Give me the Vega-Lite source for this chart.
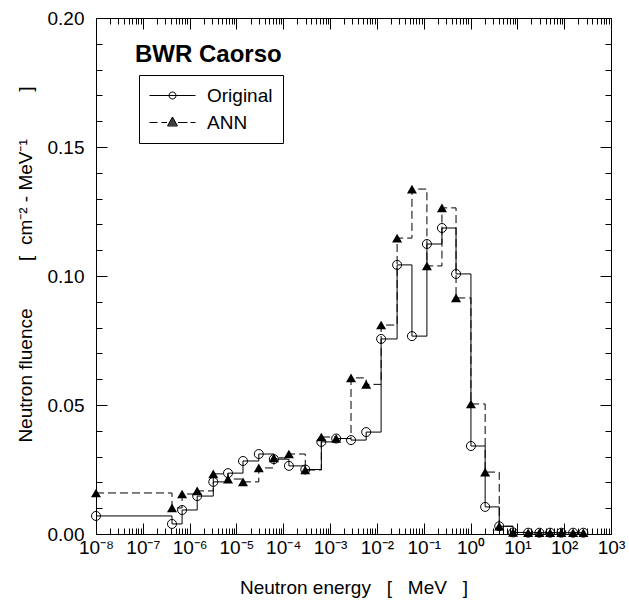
{
  "$schema": "https://vega.github.io/schema/vega-lite/v6.json",
  "width": 515,
  "height": 516,
  "autosize": "none",
  "padding": {"left": 96, "top": 18, "right": 18, "bottom": 71},
  "background": "white",
  "config": {
    "view": {"stroke": "black", "strokeWidth": 1},
    "font": "Liberation Sans",
    "axis": {
      "grid": false, "domain": false,
      "labelFont": "Liberation Sans", "labelFontSize": 19, "labelColor": "black",
      "titleFont": "Liberation Sans", "titleFontSize": 19, "titleFontWeight": "normal", "titleColor": "black",
      "tickColor": "black", "tickWidth": 1, "labelOverlap": false, "labelFlush": false
    }
  },
  "title": {
    "text": "BWR Caorso", "anchor": "start", "frame": "group", "orient": "top",
    "offset": -77, "dx": 39, "fontSize": 24, "fontWeight": "bold",
    "font": "Liberation Sans", "color": "black", "baseline": "alphabetic"
  },
  "data": {
    "values": [
      {"E": 1e-8, "v": 0.0070, "s": "Original"},
      {"E": 4.2e-7, "v": 0.0039, "s": "Original"},
      {"E": 6.9e-7, "v": 0.0093, "s": "Original"},
      {"E": 1.45e-6, "v": 0.0147, "s": "Original"},
      {"E": 3.2e-6, "v": 0.0202, "s": "Original"},
      {"E": 6.6e-6, "v": 0.0236, "s": "Original"},
      {"E": 1.38e-5, "v": 0.0283, "s": "Original"},
      {"E": 3.0e-5, "v": 0.0310, "s": "Original"},
      {"E": 6.3e-5, "v": 0.0290, "s": "Original"},
      {"E": 1.32e-4, "v": 0.0264, "s": "Original"},
      {"E": 2.95e-4, "v": 0.0250, "s": "Original"},
      {"E": 6.5e-4, "v": 0.0357, "s": "Original"},
      {"E": 1.35e-3, "v": 0.0370, "s": "Original"},
      {"E": 2.8e-3, "v": 0.0364, "s": "Original"},
      {"E": 5.9e-3, "v": 0.0395, "s": "Original"},
      {"E": 1.23e-2, "v": 0.0756, "s": "Original"},
      {"E": 2.7e-2, "v": 0.1043, "s": "Original"},
      {"E": 5.6e-2, "v": 0.0767, "s": "Original"},
      {"E": 0.117, "v": 0.1124, "s": "Original"},
      {"E": 0.245, "v": 0.1186, "s": "Original"},
      {"E": 0.49, "v": 0.1008, "s": "Original"},
      {"E": 1.02, "v": 0.0341, "s": "Original"},
      {"E": 2.05, "v": 0.0105, "s": "Original"},
      {"E": 4.1, "v": 0.0030, "s": "Original"},
      {"E": 8.1, "v": 0.0006, "s": "Original"},
      {"E": 17, "v": 0.0005, "s": "Original"},
      {"E": 29.5, "v": 0.0005, "s": "Original"},
      {"E": 50, "v": 0.0005, "s": "Original"},
      {"E": 87, "v": 0.0005, "s": "Original"},
      {"E": 155, "v": 0.0005, "s": "Original"},
      {"E": 257, "v": 0.0005, "s": "Original"},
      {"E": 1e-8, "v": 0.0159, "s": "ANN"},
      {"E": 4.2e-7, "v": 0.0101, "s": "ANN"},
      {"E": 6.9e-7, "v": 0.0155, "s": "ANN"},
      {"E": 1.45e-6, "v": 0.0167, "s": "ANN"},
      {"E": 3.2e-6, "v": 0.0233, "s": "ANN"},
      {"E": 6.6e-6, "v": 0.0213, "s": "ANN"},
      {"E": 1.38e-5, "v": 0.0202, "s": "ANN"},
      {"E": 3.0e-5, "v": 0.0256, "s": "ANN"},
      {"E": 6.3e-5, "v": 0.0295, "s": "ANN"},
      {"E": 1.32e-4, "v": 0.0310, "s": "ANN"},
      {"E": 2.95e-4, "v": 0.0248, "s": "ANN"},
      {"E": 6.5e-4, "v": 0.0376, "s": "ANN"},
      {"E": 1.35e-3, "v": 0.0370, "s": "ANN"},
      {"E": 2.8e-3, "v": 0.0605, "s": "ANN"},
      {"E": 5.9e-3, "v": 0.0580, "s": "ANN"},
      {"E": 1.23e-2, "v": 0.0810, "s": "ANN"},
      {"E": 2.7e-2, "v": 0.1147, "s": "ANN"},
      {"E": 5.6e-2, "v": 0.1337, "s": "ANN"},
      {"E": 0.117, "v": 0.1039, "s": "ANN"},
      {"E": 0.245, "v": 0.1264, "s": "ANN"},
      {"E": 0.49, "v": 0.0915, "s": "ANN"},
      {"E": 1.02, "v": 0.0504, "s": "ANN"},
      {"E": 2.05, "v": 0.0240, "s": "ANN"},
      {"E": 4.1, "v": 0.0030, "s": "ANN"},
      {"E": 8.1, "v": 0.0006, "s": "ANN"},
      {"E": 17, "v": 0.0005, "s": "ANN"},
      {"E": 29.5, "v": 0.0005, "s": "ANN"},
      {"E": 50, "v": 0.0005, "s": "ANN"},
      {"E": 87, "v": 0.0005, "s": "ANN"},
      {"E": 155, "v": 0.0005, "s": "ANN"},
      {"E": 257, "v": 0.0005, "s": "ANN"}
    ]
  },
  "layer": [
    {
      "transform": [{"filter": "datum.s === 'Original'"}],
      "mark": {"type": "line", "interpolate": "step-after", "color": "black", "strokeWidth": 1},
      "encoding": {
        "x": {
          "field": "E", "type": "quantitative",
          "scale": {"type": "log", "domain": [1e-8, 1000], "nice": false},
          "axis": {
            "orient": "bottom",
            "values": [1e-8, 1e-7, 1e-6, 1e-5, 1e-4, 1e-3, 1e-2, 1e-1, 1, 10, 100, 1000],
            "tickSize": -11, "labelPadding": 15,
            "labelExpr": "['10⁻⁸','10⁻⁷','10⁻⁶','10⁻⁵','10⁻⁴','10⁻³','10⁻²','10⁻¹','10⁰','10¹','10²','10³'][round(log(datum.value)/LN10)+8]",
            "title": "Neutron energy\u00a0\u00a0\u00a0[\u00a0\u00a0\u00a0MeV\u00a0\u00a0\u00a0]",
            "titlePadding": 21
          }
        },
        "y": {
          "field": "v", "type": "quantitative",
          "scale": {"domain": [0, 0.2], "nice": false, "zero": true},
          "axis": {
            "orient": "left",
            "values": [0, 0.05, 0.1, 0.15, 0.2], "format": ".2f",
            "tickSize": -11, "labelPadding": 23,
            "title": "Neutron fluence\u00a0\u00a0\u00a0\u00a0\u00a0\u00a0\u00a0\u00a0\u00a0[\u00a0\u00a0cm⁻²\u00a0-\u00a0MeV⁻¹\u00a0\u00a0\u00a0\u00a0\u00a0\u00a0\u00a0\u00a0\u00a0]",
            "titlePadding": 12,
            "titleY": 246
          }
        }
      }
    },
    {
      "transform": [{"filter": "datum.s === 'ANN'"}],
      "mark": {"type": "line", "interpolate": "step-after", "color": "black", "strokeWidth": 1, "strokeDash": [8, 4]},
      "encoding": {
        "x": {
          "field": "E", "type": "quantitative",
          "axis": {
            "orient": "top",
            "values": [1e-8, 1e-7, 1e-6, 1e-5, 1e-4, 1e-3, 1e-2, 1e-1, 1, 10, 100, 1000],
            "tickSize": -11, "labels": false, "title": null
          }
        },
        "y": {
          "field": "v", "type": "quantitative",
          "axis": {
            "orient": "right",
            "values": [0, 0.05, 0.1, 0.15, 0.2],
            "tickSize": -11, "labels": false, "title": null
          }
        }
      }
    },
    {
      "transform": [{"filter": "datum.s === 'Original'"}],
      "mark": {"type": "point", "shape": "circle", "filled": false, "color": "black", "strokeWidth": 1, "size": 81, "opacity": 1},
      "encoding": {
        "x": {
          "field": "E", "type": "quantitative",
          "axis": {
            "orient": "bottom",
            "values": [2e-8,3e-8,4e-8,5e-8,6e-8,7e-8,8e-8,9e-8,2e-7,3e-7,4e-7,5e-7,6e-7,7e-7,8e-7,9e-7,2e-6,3e-6,4e-6,5e-6,6e-6,7e-6,8e-6,9e-6,2e-5,3e-5,4e-5,5e-5,6e-5,7e-5,8e-5,9e-5,2e-4,3e-4,4e-4,5e-4,6e-4,7e-4,8e-4,9e-4,0.002,0.003,0.004,0.005,0.006,0.007,0.008,0.009,0.02,0.03,0.04,0.05,0.06,0.07,0.08,0.09,0.2,0.3,0.4,0.5,0.6,0.7,0.8,0.9,2,3,4,5,6,7,8,9,20,30,40,50,60,70,80,90,200,300,400,500,600,700,800,900],
            "tickSize": -6, "labels": false, "title": null
          }
        },
        "y": {
          "field": "v", "type": "quantitative",
          "axis": {
            "orient": "left",
            "values": [0.01,0.02,0.03,0.04,0.06,0.07,0.08,0.09,0.11,0.12,0.13,0.14,0.16,0.17,0.18,0.19],
            "tickSize": -6, "labels": false, "title": null
          }
        }
      }
    },
    {
      "transform": [{"filter": "datum.s === 'ANN'"}],
      "mark": {"type": "point", "shape": "triangle-up", "filled": true, "color": "black", "size": 100, "opacity": 1},
      "encoding": {
        "x": {
          "field": "E", "type": "quantitative",
          "axis": {
            "orient": "top",
            "values": [2e-8,3e-8,4e-8,5e-8,6e-8,7e-8,8e-8,9e-8,2e-7,3e-7,4e-7,5e-7,6e-7,7e-7,8e-7,9e-7,2e-6,3e-6,4e-6,5e-6,6e-6,7e-6,8e-6,9e-6,2e-5,3e-5,4e-5,5e-5,6e-5,7e-5,8e-5,9e-5,2e-4,3e-4,4e-4,5e-4,6e-4,7e-4,8e-4,9e-4,0.002,0.003,0.004,0.005,0.006,0.007,0.008,0.009,0.02,0.03,0.04,0.05,0.06,0.07,0.08,0.09,0.2,0.3,0.4,0.5,0.6,0.7,0.8,0.9,2,3,4,5,6,7,8,9,20,30,40,50,60,70,80,90,200,300,400,500,600,700,800,900],
            "tickSize": -6, "labels": false, "title": null
          }
        },
        "y": {
          "field": "v", "type": "quantitative",
          "axis": {
            "orient": "right",
            "values": [0.01,0.02,0.03,0.04,0.06,0.07,0.08,0.09,0.11,0.12,0.13,0.14,0.16,0.17,0.18,0.19],
            "tickSize": -6, "labels": false, "title": null
          }
        }
      }
    },
    {
      "transform": [{"filter": "datum.s === 'none'"}],
      "mark": {"type": "point", "filled": false, "color": "black", "strokeWidth": 1, "opacity": 1},
      "encoding": {
        "shape": {
          "field": "s", "type": "nominal",
          "scale": {
            "domain": ["Original", "ANN"],
            "range": [
              "M-1,0L3.6,0M1.65,0A0.35,0.35,0,1,1,0.95,0A0.35,0.35,0,1,1,1.65,0",
              "M-1,0L-0.2,0M0.2,0L0.75,0M1.85,0L2.8,0M3.1,0L3.6,0M1.3,-0.55L1.8,0.35L0.8,0.35ZM1.244,-0.45L1.356,-0.45M1.189,-0.35L1.411,-0.35M1.133,-0.25L1.467,-0.25M1.078,-0.15L1.522,-0.15M1.022,-0.05L1.578,-0.05M0.967,0.05L1.633,0.05M0.911,0.15L1.689,0.15M0.856,0.25L1.744,0.25"
            ]
          },
          "legend": {
            "orient": "none", "legendX": 43, "legendY": 57, "title": null,
            "labelFont": "Liberation Sans", "labelFontSize": 19, "labelColor": "black",
            "strokeColor": "black", "fillColor": "white", "padding": 10,
            "rowPadding": 6, "labelOffset": 37, "symbolSize": 400, "symbolStrokeWidth": 1
          }
        }
      }
    }
  ],
  "resolve": {"axis": {"x": "independent", "y": "independent"}}
}
